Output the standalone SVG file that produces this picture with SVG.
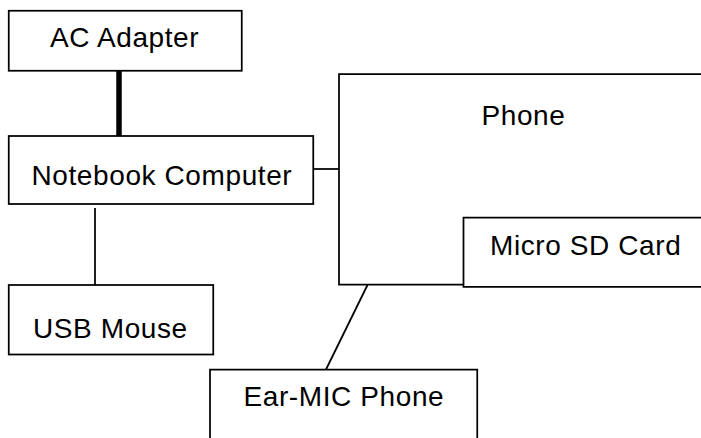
<svg xmlns="http://www.w3.org/2000/svg" width="701" height="438" viewBox="0 0 701 438">
<style>
.box{fill:#fff;stroke:#000;stroke-width:1.75}
.ln{stroke:#000;stroke-width:1.75;fill:none}
.t{font-family:'Liberation Sans',Arial,Helvetica,sans-serif;font-size:28px;letter-spacing:0.6px;fill:#000}
</style>
<rect width="701" height="438" fill="#fff"/>
<g id="connectors">
<line class="ln" x1="119" y1="71" x2="119" y2="136" style="stroke-width:5.5"/>
<line class="ln" x1="313" y1="169" x2="339" y2="169"/>
<line class="ln" x1="95" y1="208" x2="95" y2="285"/>
<line class="ln" x1="367.5" y1="285" x2="326" y2="369.5"/>
</g>
<g id="ac-adapter">
<rect class="box" x="8.75" y="10.75" width="233" height="60"/>
<text class="t" x="50" y="46.5">AC Adapter</text>
</g>
<g id="notebook">
<rect class="box" x="8.75" y="136" width="304.5" height="68"/>
<text class="t" x="31.5" y="185">Notebook Computer</text>
</g>
<g id="usb-mouse">
<rect class="box" x="8.75" y="285" width="204.5" height="69.5"/>
<text class="t" x="33" y="337.5">USB Mouse</text>
</g>
<g id="phone">
<path class="box" d="M702,74 H339 V284.5 H463.5"/>
<text class="t" x="481.5" y="125">Phone</text>
</g>
<g id="micro-sd">
<path class="box" d="M702,217.5 H463.5 V286.75 H702"/>
<text class="t" x="490" y="255">Micro SD Card</text>
</g>
<g id="ear-mic">
<path class="box" d="M210,440 V369.5 H477.25 V440"/>
<text class="t" x="243.5" y="406">Ear-MIC Phone</text>
</g>
</svg>
